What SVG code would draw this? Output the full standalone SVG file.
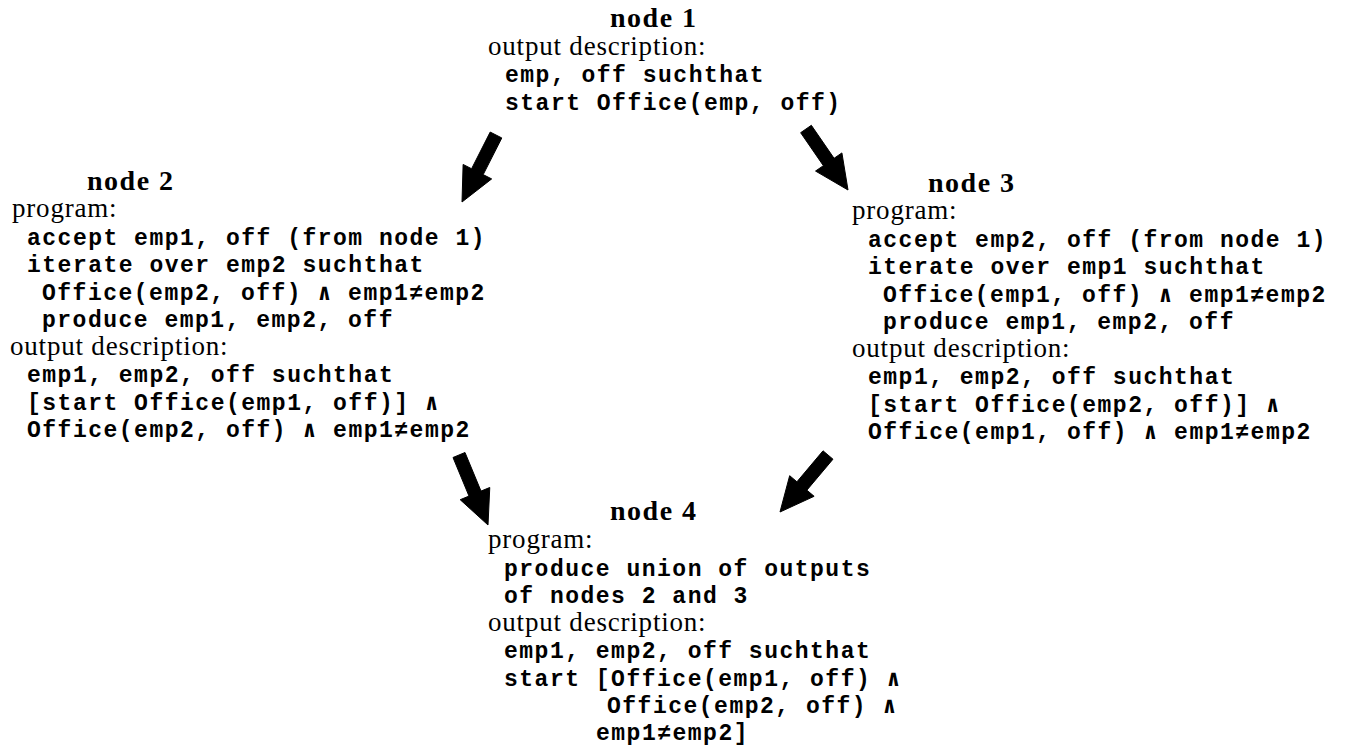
<svg xmlns="http://www.w3.org/2000/svg" width="1347" height="746" viewBox="0 0 1347 746">
  <style>
    .t { font-family: "Liberation Serif", "Times New Roman", serif; font-weight: bold; font-size: 28px; letter-spacing: 1.5px; fill: #000; }
    .l { font-family: "Liberation Serif", "Times New Roman", serif; font-size: 27px; letter-spacing: 0.8px; fill: #000; }
    .c { font-family: "Liberation Mono", "DejaVu Sans Mono", monospace; font-weight: bold; font-size: 23px; letter-spacing: 1.5px; fill: #000; }
    .arrow { fill: #000; stroke: #000; stroke-width: 1; stroke-linejoin: round; }
  </style>
  <rect width="1347" height="746" fill="#fff"/>

  <g id="node1">
    <text class="t" x="610" y="27">node 1</text>
    <text class="l" x="488" y="55">output description:</text>
    <text class="c" x="505" y="82">emp, off suchthat</text>
    <text class="c" x="505" y="110">start Office(emp, off)</text>
  </g>

  <g id="node2">
    <text class="t" x="87" y="190">node 2</text>
    <text class="l" x="12" y="217">program:</text>
    <text class="c" x="27" y="245">accept emp1, off (from node 1)</text>
    <text class="c" x="27" y="272">iterate over emp2 suchthat</text>
    <text class="c" x="42" y="300">Office(emp2, off) ∧ emp1≠emp2</text>
    <text class="c" x="42" y="327">produce emp1, emp2, off</text>
    <text class="l" x="10" y="355">output description:</text>
    <text class="c" x="27" y="382">emp1, emp2, off suchthat</text>
    <text class="c" x="27" y="410">[start Office(emp1, off)] ∧</text>
    <text class="c" x="27" y="437">Office(emp2, off) ∧ emp1≠emp2</text>
  </g>

  <g id="node3">
    <text class="t" x="928" y="192">node 3</text>
    <text class="l" x="852" y="219">program:</text>
    <text class="c" x="868" y="247">accept emp2, off (from node 1)</text>
    <text class="c" x="868" y="274">iterate over emp1 suchthat</text>
    <text class="c" x="883" y="302">Office(emp1, off) ∧ emp1≠emp2</text>
    <text class="c" x="883" y="329">produce emp1, emp2, off</text>
    <text class="l" x="852" y="357">output description:</text>
    <text class="c" x="868" y="384">emp1, emp2, off suchthat</text>
    <text class="c" x="868" y="412">[start Office(emp2, off)] ∧</text>
    <text class="c" x="868" y="439">Office(emp1, off) ∧ emp1≠emp2</text>
  </g>

  <g id="node4">
    <text class="t" x="610" y="520">node 4</text>
    <text class="l" x="488" y="548">program:</text>
    <text class="c" x="504" y="576">produce union of outputs</text>
    <text class="c" x="504" y="603">of nodes 2 and 3</text>
    <text class="l" x="488" y="631">output description:</text>
    <text class="c" x="504" y="658">emp1, emp2, off suchthat</text>
    <text class="c" x="504" y="686">start [Office(emp1, off) ∧</text>
    <text class="c" x="607" y="713">Office(emp2, off) ∧</text>
    <text class="c" x="596" y="740">emp1≠emp2]</text>
  </g>

  <!-- heavy block arrows between the nodes -->
  <g id="connectors">
    <path id="e1-2" class="arrow" d="M490.2,132.06 L501.8,137.94 L483.19,174.62 L491.66,178.92 L462,202 L463.12,164.44 L471.59,168.74 Z"/>
    <path id="e1-3" class="arrow" d="M800.65,132.69 L811.35,125.31 L834.07,158.3 L841.9,152.92 L848,190 L815.54,171.06 L823.37,165.68 Z"/>
    <path id="e2-4" class="arrow" d="M453,457.49 L465,452.51 L481,491.1 L489.77,487.47 L488,525 L460.21,499.71 L468.99,496.08 Z"/>
    <path id="e3-4" class="arrow" d="M823.03,450.81 L832.97,459.19 L806.87,490.18 L814.14,496.3 L780,512 L789.66,475.68 L796.93,481.8 Z"/>
  </g>
</svg>
